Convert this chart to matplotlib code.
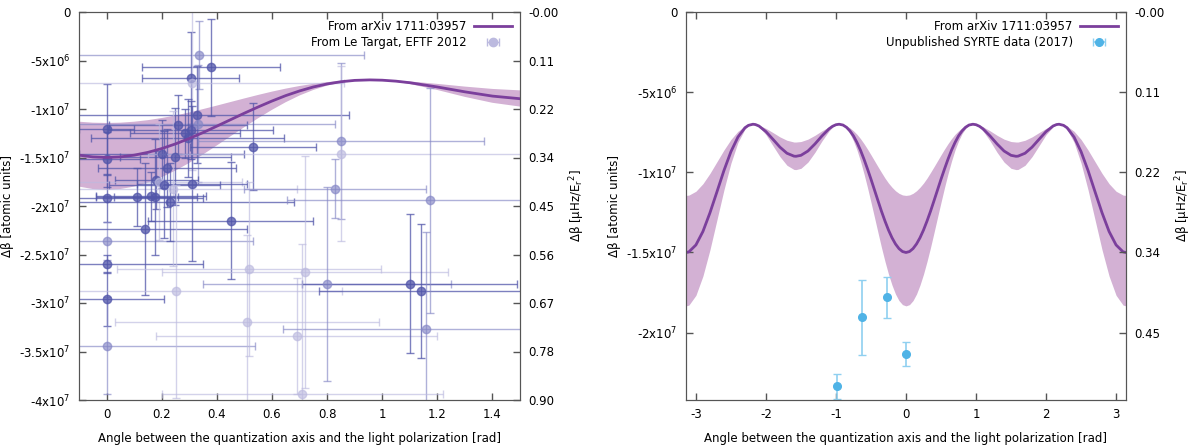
import numpy as np
import matplotlib
matplotlib.use("Agg")
import matplotlib.pyplot as plt

# ---------------- data ----------------
SCALE = 1e6  # values below are in units of 1e6 atomic units

# theoretical curve (From arXiv 1711:03957), read at angles 0..pi (symmetric in angle)
theta_half = [0.0, 0.05, 0.1, 0.15, 0.2, 0.25, 0.3, 0.35, 0.4, 0.45, 0.5, 0.55, 0.6,
              0.65, 0.7, 0.75, 0.8, 0.85, 0.9, 0.955, 1.0, 1.05, 1.1, 1.2, 1.3, 1.4,
              1.5, 1.5708, 1.6, 1.7, 1.8, 1.9, 2.0, 2.1, 2.15, 2.186, 2.25, 2.3, 2.4,
              2.5, 2.6, 2.7, 2.8, 2.9, 3.0, 3.1, 3.1416]
curve_half = [-15.00, -14.94, -14.76, -14.47, -14.08, -13.60, -13.04, -12.43, -11.77,
              -11.10, -10.43, -9.79, -9.18, -8.62, -8.14, -7.73, -7.42, -7.19, -7.05,
              -7.00, -7.03, -7.13, -7.29, -7.73, -8.23, -8.67, -8.94, -9.00, -8.99,
              -8.81, -8.43, -7.94, -7.46, -7.11, -7.02, -7.00, -7.07, -7.22, -7.80,
              -8.71, -9.89, -11.22, -12.53, -13.69, -14.53, -14.96, -15.00]
upper_half = [-11.44, -11.41, -11.31, -11.15, -10.93, -10.67, -10.36, -10.01, -9.65,
              -9.28, -8.91, -8.55, -8.21, -7.90, -7.63, -7.41, -7.23, -7.10, -7.03,
              -7.00, -7.02, -7.07, -7.16, -7.41, -7.69, -7.93, -8.08, -8.11, -8.11,
              -8.00, -7.79, -7.52, -7.26, -7.06, -7.01, -7.00, -7.04, -7.12, -7.44,
              -7.95, -8.61, -9.34, -10.07, -10.71, -11.18, -11.42, -11.44]
lower_half = [-18.33, -18.25, -18.00, -17.59, -17.03, -16.35, -15.56, -14.69, -13.76,
              -12.81, -11.87, -10.95, -10.09, -9.30, -8.61, -8.04, -7.59, -7.27, -7.07,
              -7.00, -7.04, -7.19, -7.42, -8.04, -8.75, -9.36, -9.75, -9.83, -9.82,
              -9.56, -9.02, -8.34, -7.65, -7.16, -7.03, -7.00, -7.10, -7.31, -8.13,
              -9.43, -11.10, -12.97, -14.84, -16.47, -17.67, -18.28, -18.33]

# Le Targat, EFTF 2012 points: angle [rad], d-beta [1e6 a.u.], x error, y error, shade
lt_x = [0.00, 0.00, 0.00, 0.00, 0.00, 0.00, 0.00, 0.334, 0.378, 0.305, 0.31, 0.328,
        0.26, 0.33, 0.305, 0.284, 0.295, 0.531, 0.20, 0.25, 0.22, 0.18, 0.19, 0.21,
        0.31, 0.24, 0.11, 0.16, 0.177, 0.23, 0.45, 0.138, 0.517, 0.253, 0.51, 0.69,
        0.72, 0.80, 1.10, 1.14, 1.16, 0.71, 0.85, 0.85, 0.83, 1.175]
lt_y = [-12.1, -15.2, -19.2, -23.6, -26.0, -29.6, -34.4, -4.4, -5.7, -6.8, -7.3, -10.6,
        -11.6, -11.5, -12.2, -12.5, -13.0, -13.9, -14.6, -14.9, -16.1, -17.3, -17.5,
        -17.8, -17.7, -18.2, -19.1, -19.0, -19.1, -19.6, -21.5, -22.4, -26.5, -28.8,
        -32.0, -33.4, -26.8, -28.0, -28.0, -28.8, -32.7, -39.4, -13.3, -14.6, -18.2,
        -19.4]
lt_xerr = [0.10, 0.12, 0.35, 0.53, 0.35, 0.21, 0.54, 0.60, 0.25, 0.175, 0.55, 0.55,
           0.25, 0.50, 0.30, 0.20, 0.35, 0.23, 0.30, 0.20, 0.25, 0.15, 0.30, 0.20,
           0.20, 0.45, 0.15, 0.20, 0.15, 0.45, 0.30, 0.37, 0.48, 0.60, 0.48, 0.51,
           0.52, 0.45, 0.39, 0.37, 0.52, 0.51, 0.52, 0.70, 0.33, 0.52]
lt_yerr = [4.7, 2.8, 2.5, 2.0, 0.9, 2.8, 5.0, 3.5, 5.0, 4.7, 9.0, 5.0, 3.0, 6.0, 3.0,
           2.5, 4.0, 4.5, 3.5, 5.0, 4.0, 3.0, 6.0, 5.5, 8.0, 8.0, 3.0, 2.5, 6.0, 4.0,
           6.0, 6.8, 9.0, 11.0, 9.0, 6.0, 12.0, 10.0, 7.2, 6.9, 10.0, 15.5, 8.0, 9.0,
           3.0, 11.6]
lt_shade = ['d', 'd', 'd', 'm', 'd', 'd', 'm', 'm', 'd', 'd', 'l', 'd', 'd', 'm', 'd',
            'd', 'd', 'd', 'd', 'd', 'd', 'd', 'l', 'd', 'd', 'l', 'd', 'd', 'd', 'd',
            'd', 'd', 'l', 'l', 'l', 'l', 'l', 'm', 'd', 'd', 'm', 'l', 'm', 'l', 'm',
            'm']

# Unpublished SYRTE data (2017)
sy_x = [-0.99, -0.63, -0.27, 0.00]
sy_y = [-23.35, -19.05, -17.80, -21.36]
sy_yerr = [0.80, 2.33, 1.27, 0.75]

left_xticks = [0, 0.2, 0.4, 0.6, 0.8, 1.0, 1.2, 1.4]
left_xticklabels = ['0', '0.2', '0.4', '0.6', '0.8', '1', '1.2', '1.4']
right_xticks = [-3, -2, -1, 0, 1, 2, 3]
right_xticklabels = ['-3', '-2', '-1', '0', '1', '2', '3']
left_yticks = [0, -5, -10, -15, -20, -25, -30, -35, -40]
left_yticklabels = ['0', r'-5x10$^{6}$', r'-1x10$^{7}$', r'-1.5x10$^{7}$', r'-2x10$^{7}$',
                    r'-2.5x10$^{7}$', r'-3x10$^{7}$', r'-3.5x10$^{7}$', r'-4x10$^{7}$']
left_y2labels = ['-0.00', '0.11', '0.22', '0.34', '0.45', '0.56', '0.67', '0.78', '0.90']
right_yticks = [0, -5, -10, -15, -20]
right_yticklabels = ['0', r'-5x10$^{6}$', r'-1x10$^{7}$', r'-1.5x10$^{7}$', r'-2x10$^{7}$']
right_y2labels = ['-0.00', '0.11', '0.22', '0.34', '0.45']

# ---------------- build full symmetric curve ----------------
th = np.array(theta_half)
theta_full = np.concatenate([-th[::-1], th[1:]])
curve_full = np.concatenate([np.array(curve_half)[::-1], np.array(curve_half)[1:]]) * SCALE
upper_full = np.concatenate([np.array(upper_half)[::-1], np.array(upper_half)[1:]]) * SCALE
lower_full = np.concatenate([np.array(lower_half)[::-1], np.array(lower_half)[1:]]) * SCALE

# ---------------- styling ----------------
plt.rcParams['font.family'] = ['DejaVu Sans']
plt.rcParams['font.size'] = 8.5
plt.rcParams['mathtext.default'] = 'regular'
BAND = '#d3b1d4'
CURVE = '#7b3f9c'
SPINE = '#555555'
shade_col = {'d': '#5256aa', 'm': '#8587c6', 'l': '#bcbadf'}
shade_alpha = {'d': 0.75, 'm': 0.65, 'l': 0.65}
SY = '#4fb3e6'

fig = plt.figure(figsize=(11.99, 4.47), dpi=100)
axL = fig.add_axes([79 / 1199, 1 - 400 / 447, (520 - 79) / 1199, (400 - 12) / 447])
axR = fig.add_axes([686 / 1199, 1 - 400 / 447, (1126 - 686) / 1199, (400 - 12) / 447])


def style(ax, xticks, xlabels, yticks, ylabels, y2labels, ylim):
    ax.set_ylim(*ylim)
    ax.set_xticks(xticks)
    ax.set_xticklabels(xlabels)
    ax.set_yticks([v * SCALE for v in yticks])
    ax.set_yticklabels(ylabels)
    ax.tick_params(direction='in', top=True, right=False, length=5, width=1,
                   color=SPINE, labelsize=8.5, pad=6)
    for s in ax.spines.values():
        s.set_color(SPINE)
    ax.set_ylabel('Δβ [atomic units]', fontsize=8.5, labelpad=4)
    ax.set_xlabel('Angle between the quantization axis and the light polarization [rad]',
                  fontsize=8.5, labelpad=8)
    ax2 = ax.twinx()
    ax2.set_ylim(*ylim)
    ax2.set_yticks([v * SCALE for v in yticks])
    ax2.set_yticklabels(y2labels)
    ax2.tick_params(direction='in', length=5, width=1, color=SPINE, labelsize=8.5, pad=6)
    for s in ax2.spines.values():
        s.set_color(SPINE)
    ax2.set_ylabel('Δβ [μHz/E$_r$$^2$]', fontsize=8.5, labelpad=6)
    return ax2


# ---------------- left panel ----------------
axL.fill_between(theta_full, lower_full, upper_full, color=BAND, lw=0, zorder=1)
for i in range(len(lt_x)):
    c = shade_col[lt_shade[i]]
    axL.errorbar(lt_x[i], lt_y[i] * SCALE, xerr=lt_xerr[i], yerr=lt_yerr[i] * SCALE,
                 fmt='o', ms=6, color=c, mfc=c, mec=c, ecolor=c, elinewidth=1,
                 capsize=3, capthick=1, alpha=shade_alpha[lt_shade[i]], zorder=2)
axL.plot(theta_full, curve_full, color=CURVE, lw=2, zorder=3,
         label='From arXiv 1711:03957')
axL.errorbar([np.nan], [np.nan], xerr=[0.1], fmt='o', ms=6, color=shade_col['l'],
             ecolor=shade_col['l'], elinewidth=1, capsize=3,
             label='From Le Targat, EFTF 2012')
axL.set_xlim(-0.1, 1.5)
style(axL, left_xticks, left_xticklabels, left_yticks, left_yticklabels, left_y2labels,
      (-40 * SCALE, 0))
axL.legend(loc='upper right', frameon=False, markerfirst=False, fontsize=8.5,
           handlelength=3.2, borderaxespad=0.3, labelspacing=0.25, handletextpad=0.6)

# ---------------- right panel ----------------
axR.fill_between(theta_full, lower_full, upper_full, color=BAND, lw=0, zorder=1)
axR.plot(theta_full, curve_full, color=CURVE, lw=2, zorder=3, label='From arXiv 1711:03957')
axR.errorbar(sy_x, [v * SCALE for v in sy_y], yerr=[v * SCALE for v in sy_yerr], fmt='o',
             ms=5.5, color=SY, ecolor='#8fd0f0', elinewidth=1.2, capsize=3, capthick=1,
             zorder=2)
axR.errorbar([np.nan], [np.nan], xerr=[0.1], fmt='o', ms=5.5, color=SY, ecolor='#8fd0f0',
             elinewidth=1.2, capsize=3, label='Unpublished SYRTE data (2017)')
axR.set_xlim(-np.pi, np.pi)
style(axR, right_xticks, right_xticklabels, right_yticks, right_yticklabels, right_y2labels,
      (-24.2 * SCALE, 0))
axR.legend(loc='upper right', frameon=False, markerfirst=False, fontsize=8.5,
           handlelength=3.2, borderaxespad=0.3, labelspacing=0.25, handletextpad=0.6)

fig.savefig('out.png', dpi=100)
